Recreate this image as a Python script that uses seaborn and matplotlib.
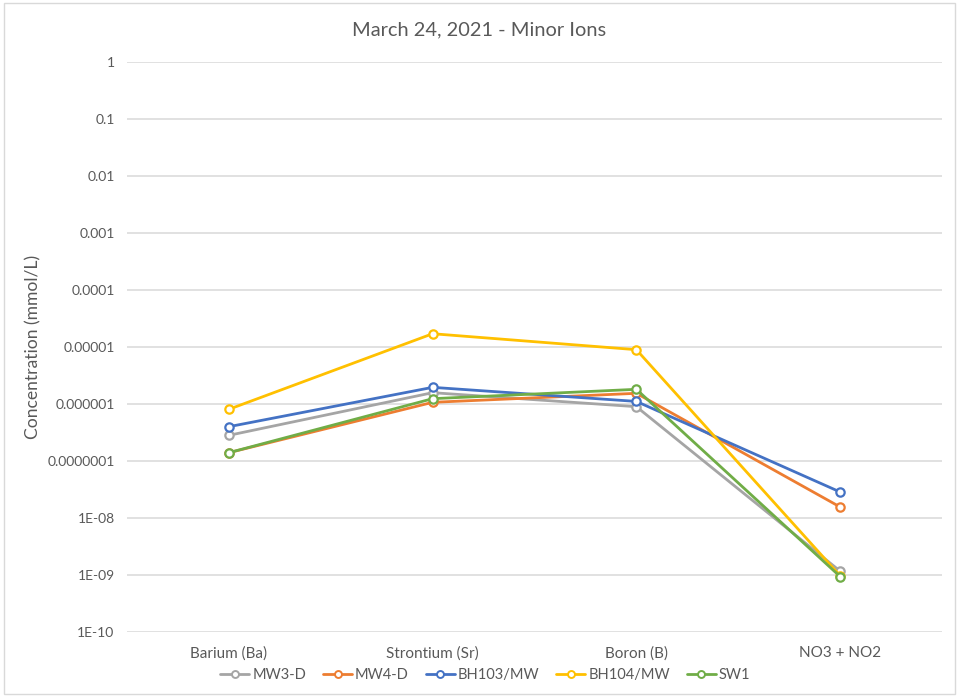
import matplotlib
matplotlib.use("Agg")
import matplotlib.pyplot as plt
from matplotlib.lines import Line2D
from matplotlib.patches import Rectangle
import seaborn as sns
import pandas as pd

# Minor ion concentrations (mmol/L), March 24, 2021
categories = ["Barium (Ba)", "Strontium (Sr)", "Boron (B)", "NO3 + NO2"]
series_names = ["MW3-D", "MW4-D", "BH103/MW", "BH104/MW", "SW1"]
mw3_d = [2.82e-7, 1.58e-6, 8.97e-7, 1.17e-9]
mw4_d = [1.40e-7, 1.07e-6, 1.54e-6, 1.56e-8]
bh103_mw = [4.0e-7, 1.96e-6, 1.11e-6, 2.86e-8]
bh104_mw = [8.07e-7, 1.71e-5, 8.97e-6, 9.7e-10]
sw1 = [1.40e-7, 1.24e-6, 1.81e-6, 9.4e-10]

y_ticks = [1, 0.1, 0.01, 0.001, 0.0001, 0.00001, 0.000001, 0.0000001, 1e-8, 1e-9, 1e-10]
y_tick_labels = ["1", "0.1", "0.01", "0.001", "0.0001", "0.00001", "0.000001",
                 "0.0000001", "1E-08", "1E-09", "1E-10"]

colors = ["#A5A5A5", "#ED7D31", "#4472C4", "#FFC000", "#70AD47"]

rows = []
for name, vals in zip(series_names, [mw3_d, mw4_d, bh103_mw, bh104_mw, sw1]):
    for cat, v in zip(categories, vals):
        rows.append({"Ion": cat, "Concentration": v, "Well": name})
df = pd.DataFrame(rows)

sns.set_theme(style="white")
plt.rcParams["font.family"] = ["Lato", "DejaVu Sans"]
text_color = "#595959"

fig = plt.figure(figsize=(9.59, 6.97), dpi=100)
ax = fig.add_axes([127 / 959, 1 - 632 / 697, (942 - 127) / 959, (632 - 62) / 697])

palette = dict(zip(series_names, colors))
sns.lineplot(data=df, x="Ion", y="Concentration", hue="Well", hue_order=series_names,
             palette=palette, marker="o", markersize=6, markerfacecolor="white",
             markeredgewidth=1.6, linewidth=2, sort=False, legend=False, ax=ax)
for line, c in zip(ax.lines, colors):
    line.set_markeredgecolor(c)

ax.set_yscale("log")
ax.set_ylim(1e-10, 1)
ax.set_xlim(-0.5, len(categories) - 0.5)
ax.set_yticks(y_ticks)
ax.set_yticklabels(y_tick_labels)
ax.yaxis.set_minor_locator(matplotlib.ticker.NullLocator())
ax.set_xticks(range(len(categories)))
ax.set_xticklabels(categories)
ax.tick_params(axis="both", length=0, labelsize=10, labelcolor=text_color)
ax.tick_params(axis="x", pad=10, labelsize=11)
ax.tick_params(axis="y", pad=9)
ax.grid(axis="y", color="#D9D9D9", linewidth=1.1)
ax.set_axisbelow(True)
for s in ax.spines.values():
    s.set_visible(False)
ax.set_xlabel("")
ax.set_ylabel("")

fig.text(0.5, 1 - 30 / 697, "March 24, 2021 - Minor Ions", ha="center", va="center",
         fontsize=14.4, color=text_color)
fig.text(33 / 959, 1 - 347 / 697, "Concentration (mmol/L)", rotation=90,
         ha="center", va="center", fontsize=12.6, color=text_color)

handles = [Line2D([0], [0], color=c, lw=2, marker="o", markersize=5,
                  markerfacecolor="white", markeredgecolor=c, markeredgewidth=1.4)
           for c in colors]
fig.legend(handles, series_names, loc="center", bbox_to_anchor=(0.506, 1 - 675 / 697),
           ncol=5, frameon=False, fontsize=10.5, handlelength=2.0, handletextpad=0.2,
           columnspacing=1.15, labelcolor=text_color)

fig.patches.append(Rectangle((0.004, 0.004), 0.992, 0.992, transform=fig.transFigure,
                             fill=False, edgecolor="#D9D9D9", linewidth=1))

fig.savefig("out.png", dpi=100)
